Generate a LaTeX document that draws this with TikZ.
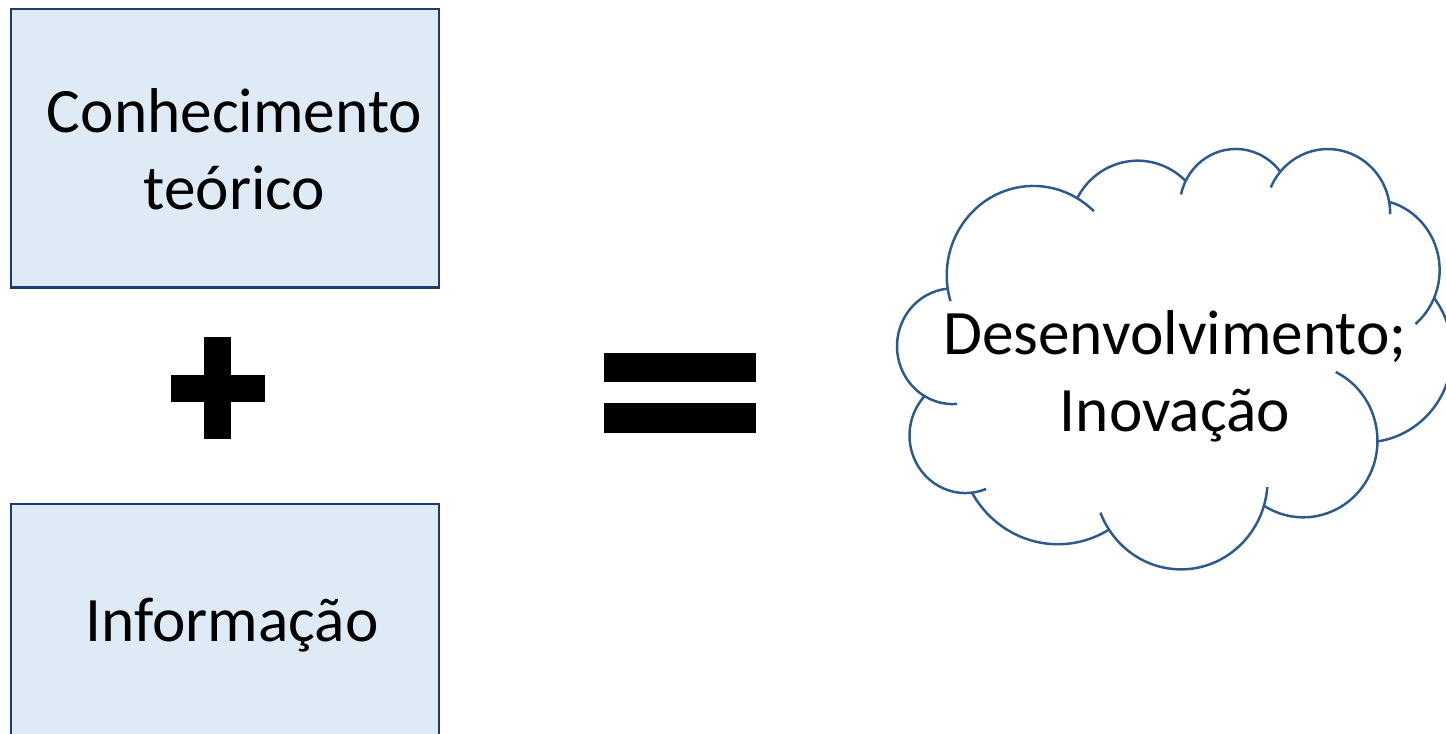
\documentclass[tikz,border=0pt]{standalone}
\usepackage{fontspec}
\setmainfont{Carlito}

\definecolor{boxfill}{HTML}{DEEAF6}
\definecolor{boxline}{HTML}{1F3A72}
\definecolor{puffline}{HTML}{2C5A8C}

\begin{document}
\begin{tikzpicture}[
            x=0.01cm, y=-0.01cm,
            font=\fontsize{18pt}{21.8pt}\selectfont,
            block/.style={
                draw=boxline,
                fill=boxfill,
                line width=0.7pt,
                inner sep=0pt,
                minimum width=4.28cm,
                minimum height=2.78cm
            },
            txt/.style={
                align=center,
                inner sep=0pt
            },
            puff/.style={
                draw=puffline,
                line width=0.7pt
            },
            sign/.style={
                fill=black
            }
        ]

% Page frame (pixels of the reference)
            \useasboundingbox (0,0) rectangle (1446,733);
            \clip (0,0) rectangle (1446,733);

% Parameters
            \def\xBox{225}
            \def\xCloud{897.5}  % left edge of the cloud
            \def\yCloud{147.6}  % top edge of the cloud

% Boxes
            \node[block] (teorico) at (\xBox,148.3) {};
            \node[block] (informacao) at (\xBox,643) {};

            \node[txt] (teoricotxt) at (234.5,149) {Conhecimento\\teórico};
            \node[txt, anchor=base] (informacaotxt) at (232,641.7) {Informação};

% Plus sign
            \fill[sign] (204.3,337.3) rectangle (231,439.3);
            \fill[sign] (171,375) rectangle (265,401.7);

% Equals sign
            \fill[sign] (604.3,352.7) rectangle (756.3,382.3);
            \fill[sign] (604.3,403.3) rectangle (756.3,433.3);

% Cloud: one elliptic puff per row, in units of 1/1000 of the shape
            \begin{scope}[shift={(\xCloud,\yCloud)}, x=0.12824cm, y=-0.09722cm]
                \foreach \cx/\cy/\rx/\ry/\ts/\te in {
                    10.591/13.131/6.753/9.190/163.19/314.24,
                    18.715/8.611/5.333/7.267/207.98/314.55,
                    26.362/6.085/4.365/5.945/192.28/322.70,
                    33.538/6.747/4.857/6.595/203.72/360.82,
                    36.917/12.596/5.333/7.273/285.23/409.64,
                    36.446/21.080/6.775/9.220/322.46/441.86,
                    31.620/30.144/5.785/7.867/-64.03/121.98,
                    22.094/34.146/6.752/9.215/4.74/158.47,
                    12.501/30.234/7.720/10.543/58.98/150.19,
                    5.294/29.597/4.360/5.918/68.24/223.11,
                    4.307/20.423/4.345/5.945/85.54/264.11} {
                    \draw[puff] (\cx,\cy) ++({\rx*cos(\ts)},{\ry*sin(\ts)})
                        arc[start angle=\ts, end angle=\te, x radius=\rx, y radius=\ry];
                }
            \end{scope}

            \node[txt] (resultado) at (1175,376) {Desenvolvimento;\\Inovação};

        \end{tikzpicture}
\end{document}
